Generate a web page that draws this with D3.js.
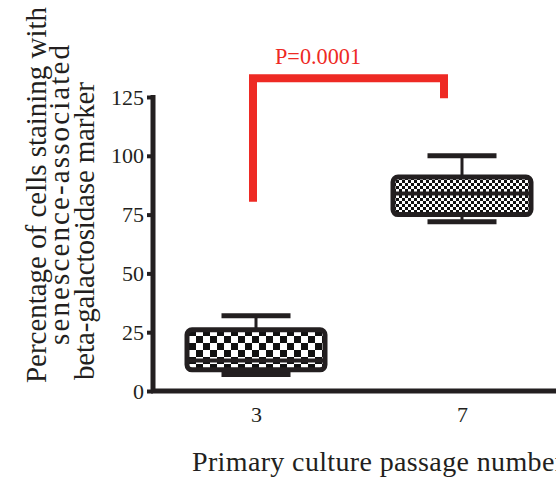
<!DOCTYPE html>
<html>
<head>
<meta charset="utf-8">
<script src="https://cdn.jsdelivr.net/npm/d3@7/dist/d3.min.js"></script>
<style>
  html, body { margin: 0; padding: 0; background: #fff; }
  svg text { font-family: "Liberation Serif", "Times New Roman", serif !important; }
</style>
</head>
<body>
<div id="chart"></div>
<script>
// ---- data ----
const categories = ["3", "7"];
const boxMin    = [7, 72];
const boxQ1     = [9, 75];
const boxMedian = [13, 84];
const boxQ3     = [26, 91];
const boxMax    = [32, 100];
const yTicks = [0, 25, 50, 75, 100, 125];
const pLabel = "P=0.0001";
const bracketLeftY = 80.5;   // value where the left leg ends
const bracketTopY = 133;     // value of the horizontal bar
const bracketRightY = 124.5; // value where the right leg ends
const xTitle = "Primary culture passage number";
const yTitleLines = ["Percentage of cells staining with", "senescence-associated", "beta-galactosidase marker"];

const W = 556, H = 480;
const svg = d3.select("#chart").append("svg").attr("width", W).attr("height", H)
  .attr("font-family", "Liberation Serif, serif");

const y = d3.scaleLinear().domain([0, 125]).range([391, 97]);
const x = d3.scalePoint().domain(categories).range([153, 565]).padding(0.5);

// patterns
const defs = svg.append("defs");
function checker(id, s) {
  const p = defs.append("pattern").attr("id", id).attr("patternUnits", "userSpaceOnUse")
    .attr("width", 2 * s).attr("height", 2 * s);
  p.append("rect").attr("width", 2 * s).attr("height", 2 * s).attr("fill", "#fff");
  p.append("rect").attr("width", s).attr("height", s).attr("fill", "#111");
  p.append("rect").attr("x", s).attr("y", s).attr("width", s).attr("height", s).attr("fill", "#111");
}
checker("pat0", 7);
checker("pat1", 3);

// axes
const yAxis = d3.axisLeft(y).tickValues(yTicks).tickSize(6).tickPadding(3).tickSizeOuter(0);
const gy = svg.append("g").attr("transform", "translate(153,0)").call(yAxis)
  .attr("font-family", "Liberation Serif, serif");
gy.select(".domain").attr("stroke", "#231f20").attr("stroke-width", 5).attr("d", `M0,${y(125) - 2}V${y(0) + 2}`);
gy.selectAll(".tick line").attr("stroke", "#231f20").attr("stroke-width", 4);
gy.selectAll(".tick text").attr("font-size", 22).attr("fill", "#231f20");

const xAxis = d3.axisBottom(x).tickSize(0).tickPadding(15);
const gx = svg.append("g").attr("transform", `translate(0,${y(0)})`).call(xAxis)
  .attr("font-family", "Liberation Serif, serif");
gx.select(".domain").attr("stroke", "#231f20").attr("stroke-width", 5).attr("d", `M151,0H${W}`);
gx.selectAll(".tick text").attr("font-size", 22).attr("fill", "#231f20");

// boxes
const boxW = 138, capW = 69;
categories.forEach((c, i) => {
  const cx = x(c);
  const g = svg.append("g");
  g.append("line").attr("x1", cx).attr("x2", cx).attr("y1", y(boxQ3[i])).attr("y2", y(boxMax[i]))
    .attr("stroke", "#231f20").attr("stroke-width", 3);
  g.append("line").attr("x1", cx - capW / 2).attr("x2", cx + capW / 2).attr("y1", y(boxMax[i])).attr("y2", y(boxMax[i]))
    .attr("stroke", "#231f20").attr("stroke-width", 5);
  g.append("line").attr("x1", cx).attr("x2", cx).attr("y1", y(boxQ1[i])).attr("y2", y(boxMin[i]))
    .attr("stroke", "#231f20").attr("stroke-width", 3);
  g.append("line").attr("x1", cx - capW / 2).attr("x2", cx + capW / 2).attr("y1", y(boxMin[i])).attr("y2", y(boxMin[i]))
    .attr("stroke", "#231f20").attr("stroke-width", 5);
  g.append("rect").attr("x", cx - boxW / 2).attr("y", y(boxQ3[i]))
    .attr("width", boxW).attr("height", y(boxQ1[i]) - y(boxQ3[i]))
    .attr("rx", 5).attr("fill", `url(#pat${i})`).attr("stroke", "#231f20").attr("stroke-width", 5);
  g.append("line").attr("x1", cx - boxW / 2).attr("x2", cx + boxW / 2).attr("y1", y(boxMedian[i])).attr("y2", y(boxMedian[i]))
    .attr("stroke", "#231f20").attr("stroke-width", 4);
});

// significance bracket
const red = "#ee2a24";
const bx1 = x(categories[0]) - 3, bx2 = x(categories[1]) - 18;
svg.append("path")
  .attr("d", `M${bx1},${y(bracketLeftY)}V${y(bracketTopY)}H${bx2}V${y(bracketRightY)}`)
  .attr("fill", "none").attr("stroke", red).attr("stroke-width", 8).attr("stroke-linejoin", "miter");
svg.append("text").attr("x", 275).attr("y", 64).attr("font-size", 24).attr("fill", red)
  .attr("textLength", 86).attr("lengthAdjust", "spacingAndGlyphs").text(pLabel);

// axis titles
svg.append("text").attr("x", 192).attr("y", 471).attr("font-size", 28).attr("fill", "#231f20")
  .attr("textLength", 372).attr("lengthAdjust", "spacing").text(xTitle);

const yt = [
  { x: 46, c: 195, len: 376 },
  { x: 69, c: 195, len: 300 },
  { x: 94, c: 231, len: 298 }
];
yTitleLines.forEach((t, i) => {
  const o = yt[i];
  svg.append("text")
    .attr("transform", `translate(${o.x},${o.c}) rotate(-90)`)
    .attr("text-anchor", "middle").attr("font-size", 29).attr("fill", "#231f20")
    .attr("textLength", o.len).attr("lengthAdjust", "spacing").text(t);
});
</script>
</body>
</html>
